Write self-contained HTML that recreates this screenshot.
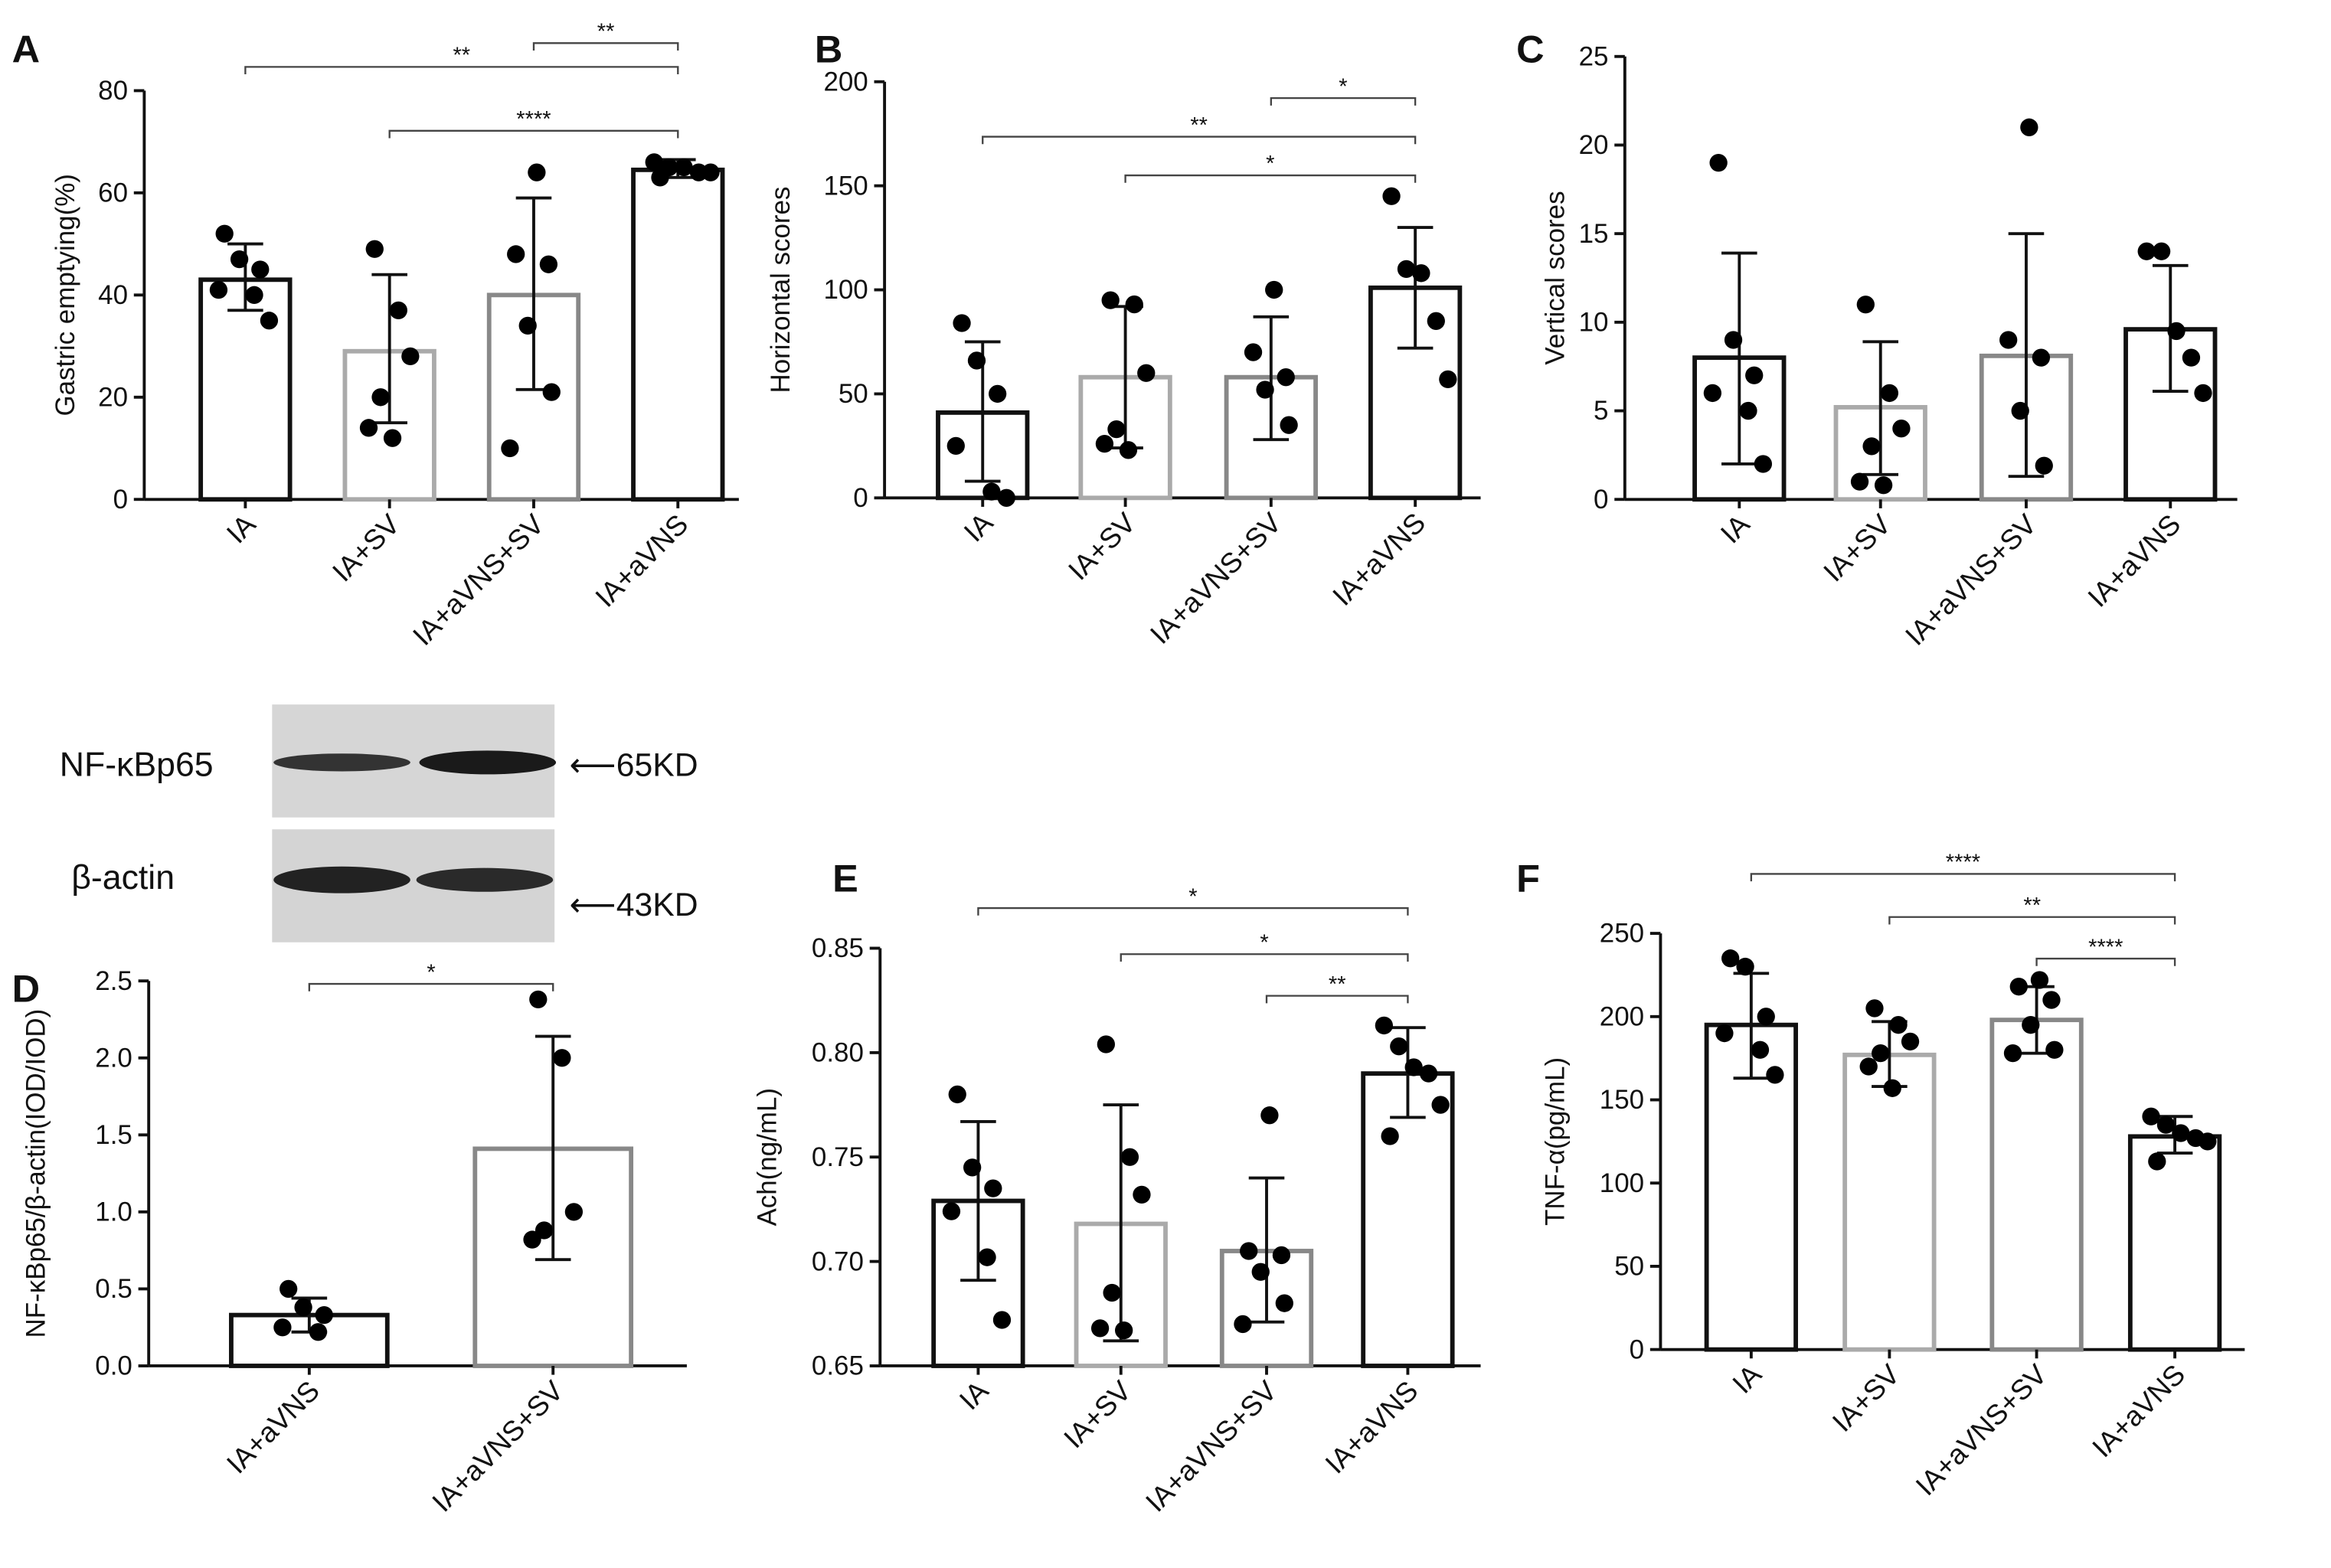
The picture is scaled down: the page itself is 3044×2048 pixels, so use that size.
<!DOCTYPE html>
<html><head><meta charset="utf-8"><style>
html,body{margin:0;padding:0;background:#fff;}
svg{display:block;}
text{font-family:"Liberation Sans",sans-serif;fill:#111;}
</style></head><body>
<svg id="fig" width="3044" height="2048" viewBox="0 0 1568 1055" xmlns="http://www.w3.org/2000/svg">
<rect width="1568" height="1055" fill="#fff"/>
<g>
  <text x="40" y="522" font-size="23">NF-κBp65</text>
  <text x="48" y="598" font-size="23">β-actin</text>
  <rect x="183" y="474" width="190" height="76" fill="#d6d6d6"/>
  <rect x="183" y="558" width="190" height="76" fill="#d4d4d4"/>
  <ellipse cx="230" cy="513" rx="46" ry="6" fill="#333"/>
  <ellipse cx="328" cy="513" rx="46" ry="8" fill="#1a1a1a"/>
  <ellipse cx="230" cy="592" rx="46" ry="9" fill="#222"/>
  <ellipse cx="326" cy="592" rx="46" ry="8" fill="#2a2a2a"/>
  <text x="383" y="522" font-size="22">⟵65KD</text>
  <text x="383" y="616" font-size="22">⟵43KD</text>
</g>
</svg>
<script>
// Panel A
const aCats=["IA","IA+SV","IA+aVNS+SV","IA+aVNS"];
const aMeans=[43,29,40,64.5];
const aLo=[37,15,21.5,63];
const aHi=[50,44,59,66.5];
const aPts=[[52,47,45,41,40,35],[49,37,28,20,14,12],[64,48,46,34,21,10],[66,65,65,64,64,63]];
const aTicks=[0,20,40,60,80];
// Panel B
const bCats=["IA","IA+SV","IA+aVNS+SV","IA+aVNS"];
const bMeans=[41,58,58,101];
const bLo=[8,24,28,72];
const bHi=[75,92,87,130];
const bPts=[[84,66,50,25,3,0],[95,93,60,33,26,23],[100,70,58,52,35],[145,110,108,85,57]];
const bTicks=[0,50,100,150,200];
// Panel C
const cCats=["IA","IA+SV","IA+aVNS+SV","IA+aVNS"];
const cMeans=[8,5.2,8.1,9.6];
const cLo=[2,1.4,1.3,6.1];
const cHi=[13.9,8.9,15,13.2];
const cPts=[[19,9,7,6,5,2],[11,6,4,3,1,0.8],[21,9,8,5,1.9],[14,14,9.5,8,6]];
const cTicks=[0,5,10,15,20,25];
// Panel D
const dCats=["IA+aVNS","IA+aVNS+SV"];
const dMeans=[0.33,1.41];
const dLo=[0.22,0.69];
const dHi=[0.44,2.14];
const dPts=[[0.5,0.38,0.33,0.25,0.22],[2.38,2.0,1.0,0.88,0.82]];
const dTicks=[0,0.5,1.0,1.5,2.0,2.5];
// Panel E
const eCats=["IA","IA+SV","IA+aVNS+SV","IA+aVNS"];
const eMeans=[0.729,0.718,0.705,0.790];
const eLo=[0.691,0.662,0.671,0.769];
const eHi=[0.767,0.775,0.740,0.812];
const ePts=[[0.780,0.745,0.735,0.724,0.702,0.672],[0.804,0.750,0.732,0.685,0.668,0.667],[0.770,0.705,0.703,0.695,0.680,0.670],[0.813,0.803,0.793,0.790,0.775,0.760]];
const eTicks=[0.65,0.70,0.75,0.80,0.85];
// Panel F
const fCats=["IA","IA+SV","IA+aVNS+SV","IA+aVNS"];
const fMeans=[195,177,198,128];
const fLo=[163,158,178,118];
const fHi=[226,197,218,140];
const fPts=[[235,230,200,190,180,165],[205,195,185,178,170,157],[222,218,210,195,180,178],[140,135,130,127,125,113]];
const fTicks=[0,50,100,150,200,250];

const NS="http://www.w3.org/2000/svg";
const svg=document.getElementById('fig');
function mk(tag,attrs,parent,txt){const e=document.createElementNS(NS,tag);for(const k in attrs)e.setAttribute(k,attrs[k]);if(txt!==undefined)e.textContent=txt;(parent||svg).appendChild(e);return e;}
const colors4=["#111","#aaa","#888","#111"];
const offs=[[-14,-4,10,-18,6,16],[-10,6,14,-6,-14,2],[2,-12,10,-4,12,-16],[-16,-6,4,14,22,-12]];

function panel(o){
  const g=mk('g',{});
  
  
  const y=v=>o.y0-(v-o.vmin)/(o.vmax-o.vmin)*(o.y0-o.y1);
  const x=i=>o.xs[i];
  const lt=mk('text',{x:o.lx,y:o.ly,'font-size':26,'font-weight':'bold'},g,o.id.toUpperCase());
  
  
  const ax=mk('line',{x1:o.ax,y1:o.y0,x2:o.ax,y2:o.y1,stroke:'#111','stroke-width':2},g);
  
  
  const xa=mk('line',{x1:o.ax,y1:o.y0,x2:o.xend,y2:o.y0,stroke:'#111','stroke-width':2},g);
  
  
  o.ticks.forEach(t=>{
    mk('line',{x1:o.ax-7,y1:y(t),x2:o.ax,y2:y(t),stroke:'#111','stroke-width':2},g);
    const tl=mk('text',{x:o.ax-11,y:y(t)+6,'font-size':18,'text-anchor':'end'},g,o.fmt?o.fmt(t):String(t));
    
    
  });
  const yt=mk('text',{x:0,y:0,'font-size':18,'text-anchor':'middle',transform:`translate(${o.tx},${(o.y0+o.y1)/2}) rotate(-90)`},g,o.ytitle);
  
  
  o.cats.forEach((c,i)=>{
    const col=o.cols[i];
    const b=mk('rect',{x:x(i)-o.bw/2,y:y(o.means[i]),width:o.bw,height:o.y0-y(o.means[i]),fill:'none',stroke:col,'stroke-width':3},g);
    
    
    const e=mk('path',{d:`M${x(i)},${y(o.lo[i])}V${y(o.hi[i])}M${x(i)-12},${y(o.lo[i])}H${x(i)+12}M${x(i)-12},${y(o.hi[i])}H${x(i)+12}`,stroke:'#111','stroke-width':2,fill:'none'},g);
    
    
    o.pts[i].forEach((p,j)=>{
      const d=mk('circle',{cx:x(i)+offs[i%4][j%6],cy:y(p),r:6,fill:'#000'},g);
      
      
    });
    const xl=mk('text',{x:0,y:0,'font-size':19,'text-anchor':'end',transform:`translate(${x(i)+8},${o.y0+18}) rotate(-45)`},g,c);
    
    
    mk('line',{x1:x(i),y1:o.y0,x2:x(i),y2:o.y0+6,stroke:'#111','stroke-width':2},g);
  });
  o.brackets.forEach(bk=>{
    const [i1,i2,yy,lab]=bk;
    const bl=mk('path',{d:`M${x(i1)},${yy+5}V${yy}H${x(i2)}V${yy+5}`,stroke:'#444','stroke-width':1.2,fill:'none'},g);
    
    
    const st=mk('text',{x:(x(i1)+x(i2))/2,y:yy-3,'font-size':15,'text-anchor':'middle'},g,lab);
    
    
  });
}
panel({id:'a',lx:8,ly:42,ax:97,xend:497,y0:336,y1:61,vmin:0,vmax:80,xs:[165,262,359,456],bw:60,cols:colors4,cats:aCats,means:aMeans,lo:aLo,hi:aHi,pts:aPts,ticks:aTicks,tx:50,ytitle:'Gastric emptying(%)',brackets:[[0,3,45,'**'],[1,3,88,'****'],[2,3,29,'**']]});
panel({id:'b',lx:548,ly:42,ax:595,xend:996,y0:335,y1:55,vmin:0,vmax:200,xs:[661,757,855,952],bw:60,cols:colors4,cats:bCats,means:bMeans,lo:bLo,hi:bHi,pts:bPts,ticks:bTicks,tx:531,ytitle:'Horizontal scores',brackets:[[0,3,92,'**'],[1,3,118,'*'],[2,3,66,'*']]});
panel({id:'c',lx:1020,ly:42,ax:1093,xend:1505,y0:336,y1:38,vmin:0,vmax:25,xs:[1170,1265,1363,1460],bw:60,cols:colors4,cats:cCats,means:cMeans,lo:cLo,hi:cHi,pts:cPts,ticks:cTicks,tx:1052,ytitle:'Vertical scores',brackets:[]});
panel({id:'d',lx:8,ly:674,ax:100,xend:462,y0:919,y1:660,vmin:0,vmax:2.5,xs:[208,372],bw:105,cols:["#111","#888"],cats:dCats,means:dMeans,lo:dLo,hi:dHi,pts:dPts,ticks:dTicks,fmt:t=>t.toFixed(1),tx:30,ytitle:'NF-κBp65/β-actin(IOD/IOD)',brackets:[[0,1,662,'*']]});
panel({id:'e',lx:560,ly:600,ax:592,xend:996,y0:919,y1:638,vmin:0.65,vmax:0.85,xs:[658,754,852,947],bw:60,cols:colors4,cats:eCats,means:eMeans,lo:eLo,hi:eHi,pts:ePts,ticks:eTicks,fmt:t=>t.toFixed(2),tx:522,ytitle:'Ach(ng/mL)',brackets:[[0,3,611,'*'],[1,3,642,'*'],[2,3,670,'**']]});
panel({id:'f',lx:1020,ly:600,ax:1117,xend:1510,y0:908,y1:628,vmin:0,vmax:250,xs:[1178,1271,1370,1463],bw:60,cols:colors4,cats:fCats,means:fMeans,lo:fLo,hi:fHi,pts:fPts,ticks:fTicks,tx:1052,ytitle:'TNF-α(pg/mL)',brackets:[[0,3,588,'****'],[1,3,617,'**'],[2,3,645,'****']]});
</script>
</body></html>
